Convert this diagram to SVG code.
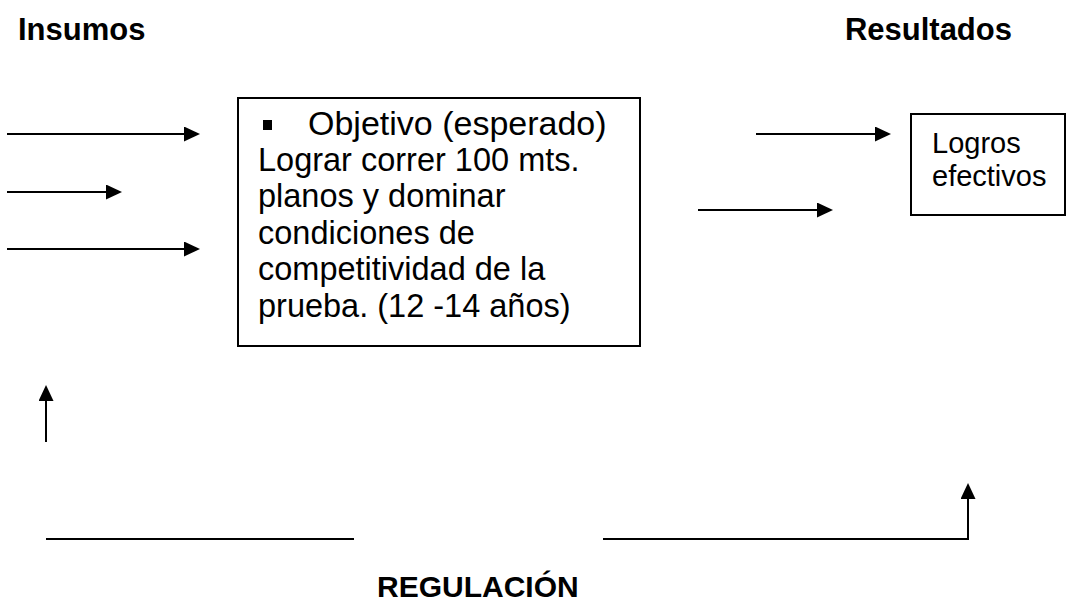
<svg xmlns="http://www.w3.org/2000/svg" width="1071" height="608" viewBox="0 0 1071 608">
<style>
  .t { font-family: "Liberation Sans", Arial, sans-serif; fill: #000; }
  .h { font-family: "Liberation Sans", Arial, sans-serif; font-weight: bold; fill: #000; }
  .box { fill: #fff; stroke: #000; stroke-width: 2; }
  .ln { fill: none; stroke: #000; stroke-width: 2; }
</style>
<defs>
  <marker id="ah" viewBox="0 0 16 15" refX="8" refY="7.5" markerWidth="16" markerHeight="15" markerUnits="userSpaceOnUse" orient="auto">
    <path d="M0,0 L16,7.5 L0,15 z" fill="#000"/>
  </marker>
</defs>
<rect width="1071" height="608" fill="#fff"/>
<g id="labels">
  <text class="h" x="18" y="40" font-size="31">Insumos</text>
  <text class="h" x="1012" y="40" font-size="31" text-anchor="end">Resultados</text>
  <text class="h" x="377" y="597" font-size="30">REGULACIÓN</text>
</g>
<g id="objetivo">
  <rect class="box" x="238" y="98" width="402" height="248"/>
  <rect x="263" y="120" width="9" height="10" fill="#000"/>
  <text class="t" x="308" y="135" font-size="34">Objetivo (esperado)</text>
  <text class="t" font-size="32.5">
    <tspan x="258" y="171">Lograr correr 100 mts.</tspan>
    <tspan x="258" y="207.4">planos y dominar</tspan>
    <tspan x="258" y="243.8">condiciones de</tspan>
    <tspan x="258" y="280.2">competitividad de la</tspan>
    <tspan x="258" y="316.6">prueba. (12 -14 años)</tspan>
  </text>
</g>
<g id="logros">
  <rect class="box" x="911" y="114" width="154" height="101"/>
  <text class="t" font-size="29">
    <tspan x="932" y="153">Logros</tspan>
    <tspan x="932" y="186">efectivos</tspan>
  </text>
</g>
<g id="connectors">
  <line class="ln" x1="7" y1="134" x2="192" y2="134" marker-end="url(#ah)"/>
  <line class="ln" x1="7" y1="192" x2="114" y2="192" marker-end="url(#ah)"/>
  <line class="ln" x1="7" y1="249" x2="192" y2="249" marker-end="url(#ah)"/>
  <line class="ln" x1="756" y1="134" x2="883" y2="134" marker-end="url(#ah)"/>
  <line class="ln" x1="698" y1="210" x2="825" y2="210" marker-end="url(#ah)"/>
  <line class="ln" x1="46" y1="442" x2="46" y2="393" marker-end="url(#ah)"/>
  <line class="ln" x1="46" y1="539" x2="354" y2="539"/>
  <polyline class="ln" points="603,539 968,539 968,491" marker-end="url(#ah)"/>
</g>
</svg>
